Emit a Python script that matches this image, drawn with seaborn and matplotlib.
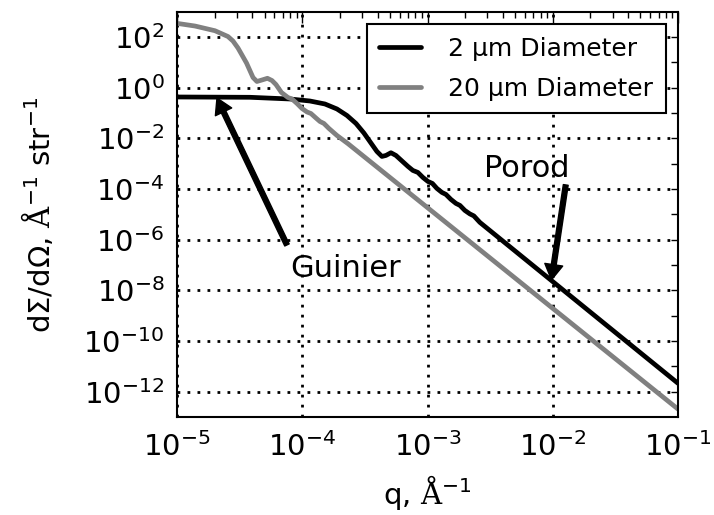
import numpy as np
import pandas as pd
import matplotlib
matplotlib.use("Agg")
import matplotlib.pyplot as plt
import seaborn as sns
from matplotlib.ticker import LogLocator, FixedLocator, NullFormatter, LogFormatterSciNotation

# ---- data (log10 of q [1/A] and of dSigma/dOmega) ----
series_labels = ["2 \u00b5m Diameter", "20 \u00b5m Diameter"]
series_colors = ["black", "gray"]

log_q_2um = [-5.000, -4.417, -4.098, -3.939, -3.819, -3.723, -3.643, -3.571, -3.508,
             -3.452, -3.404, -3.364, -3.332, -3.292, -3.252, -3.204, -3.156, -3.117,
             -3.077, -3.037, -2.997, -2.961, -2.925, -2.885, -2.853, -2.813, -2.773,
             -2.741, -2.702, -2.662, -2.630, -2.582, -1.000]
log_I_2um = [-0.367, -0.379, -0.446, -0.525, -0.643, -0.840, -1.097, -1.412, -1.787,
             -2.181, -2.517, -2.714, -2.675, -2.568, -2.675, -2.892, -3.108, -3.266,
             -3.345, -3.542, -3.700, -3.779, -3.976, -4.134, -4.213, -4.410, -4.568,
             -4.647, -4.844, -4.982, -5.061, -5.317, -11.67]

log_q_20um = [-5.000, -4.856, -4.697, -4.593, -4.553, -4.513, -4.445, -4.393, -4.362,
              -4.322, -4.278, -4.242, -4.210, -4.166, -4.114, -4.082, -4.042, -4.002,
              -3.962, -3.931, -3.891, -3.859, -3.827, -3.787, -3.723, -3.635, -1.000]
log_I_20um = [2.540, 2.434, 2.249, 2.020, 1.842, 1.566, 0.974, 0.402, 0.245,
              0.304, 0.371, 0.284, 0.126, -0.189, -0.387, -0.446, -0.623, -0.821,
              -0.959, -1.018, -1.195, -1.333, -1.412, -1.609, -1.886, -2.210, -12.688]

x_major_ticks = [1e-5, 1e-4, 1e-3, 1e-2, 1e-1]
y_major_ticks = [1e-12, 1e-10, 1e-8, 1e-6, 1e-4, 1e-2, 1e0, 1e2]
y_minor_ticks = [1e-11, 1e-9, 1e-7, 1e-5, 1e-3, 1e-1, 1e1]

# annotations: (text, text position, arrow tail, arrow tip)
ann_guinier = ("Guinier", (7.98e-5, 3.41e-8), (7.55e-5, 6.2e-7), (2.085e-5, 0.39))
ann_porod = ("Porod", (2.82e-3, 3.08e-4), (1.27e-2, 1.45e-4), (9.77e-3, 2.6e-8))

# ---- style ----
sns.set_theme(style="white")
plt.rcParams["font.family"] = ["DejaVu Sans"]
plt.rcParams["mathtext.fontset"] = "custom"
plt.rcParams["mathtext.rm"] = "DejaVu Serif"
plt.rcParams["mathtext.it"] = "DejaVu Sans:italic"
plt.rcParams["mathtext.bf"] = "DejaVu Sans:bold"
plt.rcParams["mathtext.sf"] = "DejaVu Sans"
plt.rcParams["mathtext.default"] = "regular"
plt.rcParams["axes.edgecolor"] = "black"
plt.rcParams["axes.linewidth"] = 1.5
plt.rcParams["xtick.color"] = "black"
plt.rcParams["ytick.color"] = "black"
plt.rcParams["text.color"] = "black"
plt.rcParams["axes.labelcolor"] = "black"
plt.rcParams["xtick.labelcolor"] = "black"
plt.rcParams["ytick.labelcolor"] = "black"

fig = plt.figure(figsize=(7.14, 5.15), dpi=100)
ax = fig.add_axes([177 / 714, 1 - 417 / 515, (678 - 177) / 714, (417 - 11.7) / 515])

frames = []
for lab, lq, li in [(series_labels[0], log_q_2um, log_I_2um),
                    (series_labels[1], log_q_20um, log_I_20um)]:
    frames.append(pd.DataFrame({"q": 10 ** np.array(lq), "I": 10 ** np.array(li), "series": lab}))
df = pd.concat(frames, ignore_index=True)

for lab, col in zip(series_labels, series_colors):
    sub = df[df["series"] == lab]
    sns.lineplot(data=sub, x="q", y="I", color=col, lw=3.4, label=lab,
                 estimator=None, sort=False, ax=ax)

ax.set_xscale("log")
ax.set_yscale("log")
ax.set_xlim(1e-5, 1e-1)
ax.set_ylim(1e-13, 1e3)

ax.xaxis.set_major_locator(FixedLocator(x_major_ticks))
ax.xaxis.set_minor_locator(LogLocator(base=10, subs=np.arange(2, 10), numticks=20))
ax.xaxis.set_major_formatter(LogFormatterSciNotation(base=10))
ax.xaxis.set_minor_formatter(NullFormatter())
ax.yaxis.set_major_locator(FixedLocator(y_major_ticks))
ax.yaxis.set_minor_locator(FixedLocator(y_minor_ticks))
ax.yaxis.set_major_formatter(LogFormatterSciNotation(base=10))
ax.yaxis.set_minor_formatter(NullFormatter())

ax.tick_params(which="both", direction="in", top=True, right=True, color="black",
               width=1.0)
ax.tick_params(axis="x", which="major", length=8, labelsize=21, pad=11)
ax.tick_params(axis="x", which="minor", length=4)
ax.tick_params(axis="y", which="major", length=5, labelsize=21, pad=9)
ax.tick_params(axis="y", which="minor", length=5)

ax.grid(True, which="major", color="black", linestyle=(0, (1, 2.6)), linewidth=2.0)
ax.grid(False, which="minor")

ax.set_xlabel(r"q, $\mathrm{\AA}^{-1}$", fontsize=21, labelpad=8)
ax.set_ylabel("d\u03a3/d\u03a9, " + r"$\mathrm{\AA}^{-1}$" + " str" + r"$^{-1}$",
              fontsize=21, labelpad=20)

for txt, tpos, tail, tip in [ann_guinier, ann_porod]:
    ax.text(tpos[0], tpos[1], txt, fontsize=22, ha="left", va="baseline", color="black")
    ax.annotate("", xy=tip, xytext=tail,
                arrowprops=dict(facecolor="black", edgecolor="black", width=3.5,
                                headwidth=13, headlength=11, shrink=0))

leg = ax.legend(loc="upper right", fontsize=18, frameon=True, fancybox=False,
                framealpha=1, borderaxespad=0.5, handlelength=1.65,
                handletextpad=1.1, labelspacing=0.65, borderpad=0.5)
leg.get_frame().set_edgecolor("black")
leg.get_frame().set_linewidth(1.5)
for t in leg.get_texts():
    t.set_color("black")

fig.savefig("out.png", dpi=100)
